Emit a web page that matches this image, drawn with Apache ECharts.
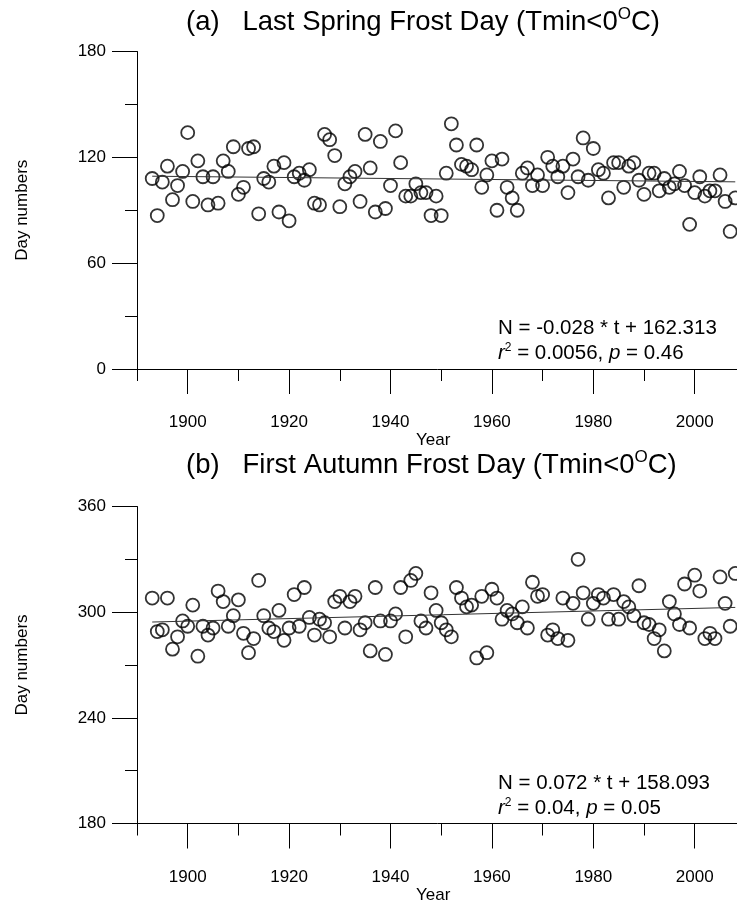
<!DOCTYPE html>
<html><head><meta charset="utf-8">
<script src="https://cdn.jsdelivr.net/npm/echarts@6/dist/echarts.min.js"></script>
<style>html,body{margin:0;padding:0;background:#fff}#c{width:737px;height:905px}</style>
</head><body><div id="c"></div>
<script>
const years = [1893,1894,1895,1896,1897,1898,1899,1900,1901,1902,1903,1904,1905,1906,1907,1908,1909,1910,1911,1912,1913,1914,1915,1916,1917,1918,1919,1920,1921,1922,1923,1924,1925,1926,1927,1928,1929,1930,1931,1932,1933,1934,1935,1936,1937,1938,1939,1940,1941,1942,1943,1944,1945,1946,1947,1948,1949,1950,1951,1952,1953,1954,1955,1956,1957,1958,1959,1960,1961,1962,1963,1964,1965,1966,1967,1968,1969,1970,1971,1972,1973,1974,1975,1976,1977,1978,1979,1980,1981,1982,1983,1984,1985,1986,1987,1988,1989,1990,1991,1992,1993,1994,1995,1996,1997,1998,1999,2000,2001,2002,2003,2004,2005,2006,2007,2008];
const lastSpring = [108,87,106,115,96,104,112,134,95,118,109,93,109,94,118,112,126,99,103,125,126,88,108,106,115,89,117,84,109,111,107,113,94,93,133,130,121,92,105,109,112,95,133,114,89,129,91,104,135,117,98,98,105,100,100,87,98,87,111,139,127,116,115,113,127,103,110,118,90,119,103,97,90,111,114,104,110,104,120,115,109,115,100,119,109,131,107,125,113,111,97,117,117,103,115,117,107,99,111,111,101,108,103,105,112,104,82,100,109,98,101,101,110,95,78,97];
const firstAutumn = [308,289,290,308,279,286,295,292,304,275,292,287,291,312,306,292,298,307,288,277,285,318,298,291,289,301,284,291,310,292,314,297,287,296,294,286,306,309,291,306,309,290,294,278,314,295,276,295,299,314,286,318,322,295,291,311,301,294,290,286,314,308,303,304,274,309,277,313,308,296,301,299,294,303,291,317,309,310,287,290,285,308,284,305,330,311,296,305,310,308,296,310,296,306,303,298,315,294,293,285,290,278,306,299,293,316,291,321,312,285,288,285,320,305,292,322];
const trendYears = [1893, 2008];
const trendA = [109.3, 106.1];
const trendB = [294.4, 302.7];
const majorYears = [1900,1920,1940,1960,1980,2000];
const minorYears = [1890,1910,1930,1950,1970,1990,2010];
const titleA = '(a)   Last Spring Frost Day (Tmin<0';
const titleB = '(b)   First Autumn Frost Day (Tmin<0';
const eqA = ['N = -0.028 * t + 162.313', ' = 0.0056, ', ' = 0.46'];
const eqB = ['N = 0.072 * t + 158.093', ' = 0.04, ', ' = 0.05'];

const FF = 'Liberation Sans, Arial, Helvetica, sans-serif';
const chart = echarts.init(document.getElementById('c'), null, {renderer:'canvas'});

function pairs(xs, ys){ return xs.map((x,i)=>[x, ys[i]]); }

function xAxes(g){
  return [
    {gridIndex:g, type:'value', min:1890, max:2010, position:'bottom',
     axisLine:{show:true, lineStyle:{color:'#000', width:1}},
     axisTick:{show:true, customValues:majorYears, length:25, lineStyle:{color:'#000', width:1}},
     axisLabel:{show:true, customValues:majorYears, margin:45, fontSize:17, fontFamily:FF, color:'#000', formatter:v=>String(v)},
     splitLine:{show:false},
     name:'Year', nameLocation:'middle', nameGap:62,
     nameTextStyle:{fontSize:17, fontFamily:FF, color:'#000', padding:[0,16,0,0]}},
    {gridIndex:g, type:'value', min:1890, max:2010, position:'bottom',
     axisLine:{show:false},
     axisTick:{show:true, customValues:minorYears, length:12, lineStyle:{color:'#000', width:1}},
     axisLabel:{show:false}, splitLine:{show:false}}
  ];
}
function yAxis(g, mn, mx){
  return {gridIndex:g, type:'value', min:mn, max:mx, interval:60,
    axisLine:{show:true, lineStyle:{color:'#000', width:1}},
    axisTick:{show:true, length:25, lineStyle:{color:'#000', width:1}},
    minorTick:{show:true, splitNumber:2, length:12, lineStyle:{color:'#000', width:1}},
    axisLabel:{margin:31, fontSize:17, fontFamily:FF, color:'#000'},
    splitLine:{show:false}, minorSplitLine:{show:false},
    name:'Day numbers', nameLocation:'middle', nameGap:106,
    nameTextStyle:{fontSize:17, fontFamily:FF, color:'#000'}};
}
const scatterStyle = {color:'rgba(0,0,0,0)', borderColor:'#000', borderWidth:1.8};

function titleObj(txt, top){
  return {text:'{n|'+txt+'}{s|O}{n|C)}', left:181, top:top,
    textStyle:{rich:{
      n:{fontSize:27.5, fontWeight:'normal', fontFamily:FF, color:'#000', lineHeight:32},
      s:{fontSize:17, fontWeight:'normal', fontFamily:FF, color:'#000', lineHeight:19, verticalAlign:'top'}
    }}};
}
function eqGraphics(eq, top){
  return [
    {type:'text', left:498, top:top, style:{text:eq[0], fontSize:20.5, fontFamily:FF, fill:'#000'}},
    {type:'text', left:498, top:top+24, style:{
      text:'{i|r}{s|2}{t|'+eq[1]+'}{i|p}{t|'+eq[2]+'}',
      rich:{
        i:{fontSize:20.5, fontFamily:FF, fontStyle:'italic', fill:'#000', lineHeight:23},
        t:{fontSize:20.5, fontFamily:FF, fill:'#000', lineHeight:23},
        s:{fontSize:12, fontFamily:FF, fill:'#000', lineHeight:14, verticalAlign:'top'}
      }}}
  ];
}

chart.setOption({
  backgroundColor:'#fff',
  animation:false,
  title:[titleObj(titleA, 1), titleObj(titleB, 444)],
  grid:[
    {left:137, width:608.4, top:51.5, height:317.5, outerBoundsMode:'none', containLabel:false},
    {left:137, width:608.4, top:506.5, height:317, outerBoundsMode:'none', containLabel:false}
  ],
  xAxis:[...xAxes(0), ...xAxes(1)],
  yAxis:[yAxis(0,0,180), yAxis(1,180,360)],
  series:[
    {type:'scatter', xAxisIndex:0, yAxisIndex:0, data:pairs(years,lastSpring), symbol:'circle', symbolSize:13, itemStyle:scatterStyle},
    {type:'line', xAxisIndex:0, yAxisIndex:0, data:pairs(trendYears,trendA), showSymbol:false, symbol:'none', lineStyle:{color:'#333', width:1}},
    {type:'scatter', xAxisIndex:2, yAxisIndex:1, data:pairs(years,firstAutumn), symbol:'circle', symbolSize:13, itemStyle:scatterStyle},
    {type:'line', xAxisIndex:2, yAxisIndex:1, data:pairs(trendYears,trendB), showSymbol:false, symbol:'none', lineStyle:{color:'#333', width:1}}
  ],
  graphic:[...eqGraphics(eqA, 318), ...eqGraphics(eqB, 773)]
});
</script></body></html>
